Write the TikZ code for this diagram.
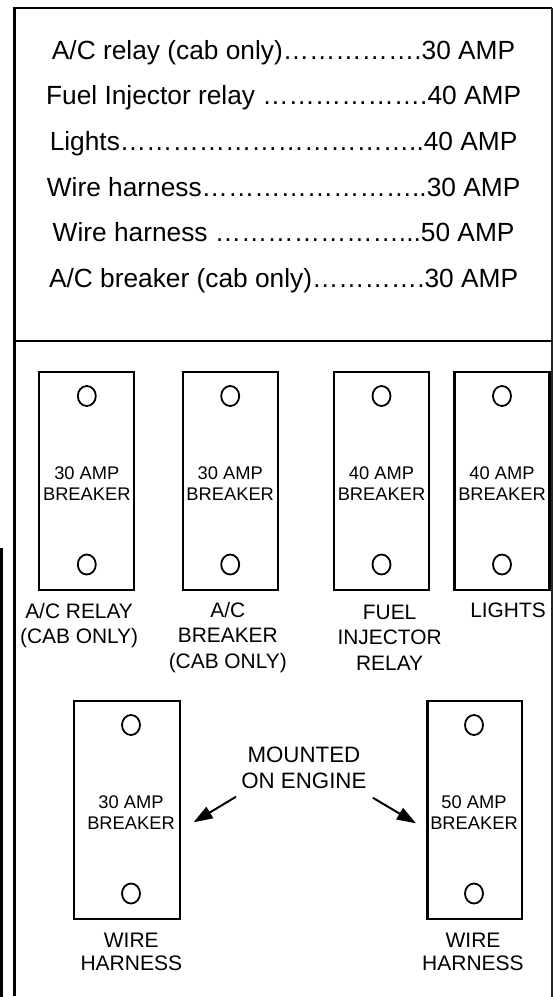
\documentclass[tikz,border=0pt]{standalone}
\usepackage{fontspec}
\setmainfont{Liberation Sans}
\usetikzlibrary{arrows.meta,shapes.geometric}
\tikzset{
  amp/.style={font=\fontsize{26.3}{30}\selectfont, anchor=base, inner sep=0pt},
  brk/.style={draw, line width=2.3pt, minimum height=218pt, inner sep=0pt},
  brktxt/.style={font=\fontsize{18.3}{21}\selectfont, align=center, inner sep=0pt},
  hole/.style={draw, ellipse, line width=1.8pt, minimum width=18pt, minimum height=20pt, inner sep=0pt},
  lbl/.style={font=\fontsize{20.9}{25.5}\selectfont, align=center, anchor=base, inner sep=0pt},
  arr/.style={line width=2pt, -{Triangle[length=19pt,width=13pt]}}
}
\begin{document}
\begin{tikzpicture}[x=1pt,y=-1pt]
\useasboundingbox (0,0) rectangle (554,997);
\draw[line width=2.5pt] (14.3,996) -- (14.3,8) -- (552,8);
\draw[line width=1.2pt, black!85] (552,8) -- (552,997);
\draw[line width=2pt] (14.3,341) -- (552,341);
\draw[line width=3pt] (1.5,548) -- (1.5,997);

\node[amp] (r1) at (283.6,59.3) {A/C relay (cab only)…{}…{}…{}…{}….30 AMP};
\node[amp] (r2) at (283.6,104.9) {Fuel Injector relay …{}…{}…{}…{}…{}….40 AMP};
\node[amp] (r3) at (283.6,150.5) {Lights…{}…{}…{}…{}…{}…{}…{}…{}…{}…{}…..40 AMP};
\node[amp] (r4) at (283.6,196.1) {Wire harness…{}…{}…{}…{}…{}…{}…{}…..30 AMP};
\node[amp] (r5) at (283.6,241.7) {Wire harness …{}…{}…{}…{}…{}…{}…...50 AMP};
\node[amp] (r6) at (283.6,287.3) {A/C breaker (cab only)…{}…{}…{}….30 AMP};

\foreach \nm/\cx/\tx/\cy/\w/\amp in {b1/86.8/86.8/481/95/30, b2/230.2/230.2/481/95/30,
    b3/381.5/381.5/481/95/40, b4/502/502/481/95/40, b5/127.2/131/810/106/30, b6/474.7/474/810/94.3/50}
{
  \node[brk, minimum width=\w pt] (\nm) at (\cx,\cy) {};
  \node[brktxt] (\nm-txt) at (\tx,\cy+2.5) {\amp\ AMP\\BREAKER};
  \node[hole] (\nm-top) at (\tx,\cy-85) {};
  \node[hole] (\nm-bot) at (\tx,\cy+83.5) {};
}

\node[lbl] (l1) at (79.1,643.5) {A/C RELAY\\(CAB ONLY)};
\node[lbl] (l2) at (227.8,668.3) {A/C\\BREAKER\\(CAB ONLY)};
\node[lbl] (l3) at (389.6,670) {FUEL\\INJECTOR\\RELAY};
\node[lbl] (l4) at (508,617.3) {LIGHTS};
\node[lbl, font=\fontsize{21}{23}\selectfont] (l5) at (131.3,970.7) {WIRE\\HARNESS};
\node[lbl, font=\fontsize{21}{23}\selectfont] (l6) at (473,970.7) {WIRE\\HARNESS};
\node[lbl, font=\fontsize{22.3}{25.6}\selectfont] (mnt) at (303.9,788.3) {MOUNTED\\ON ENGINE};

\coordinate (aL) at (236,796.7);
\coordinate (tL) at (193.6,822.3);
\coordinate (aR) at (372.8,797.7);
\coordinate (tR) at (415.9,823.3);
\draw[arr] (aL) -- (tL);
\draw[arr] (aR) -- (tR);
\end{tikzpicture}
\end{document}
